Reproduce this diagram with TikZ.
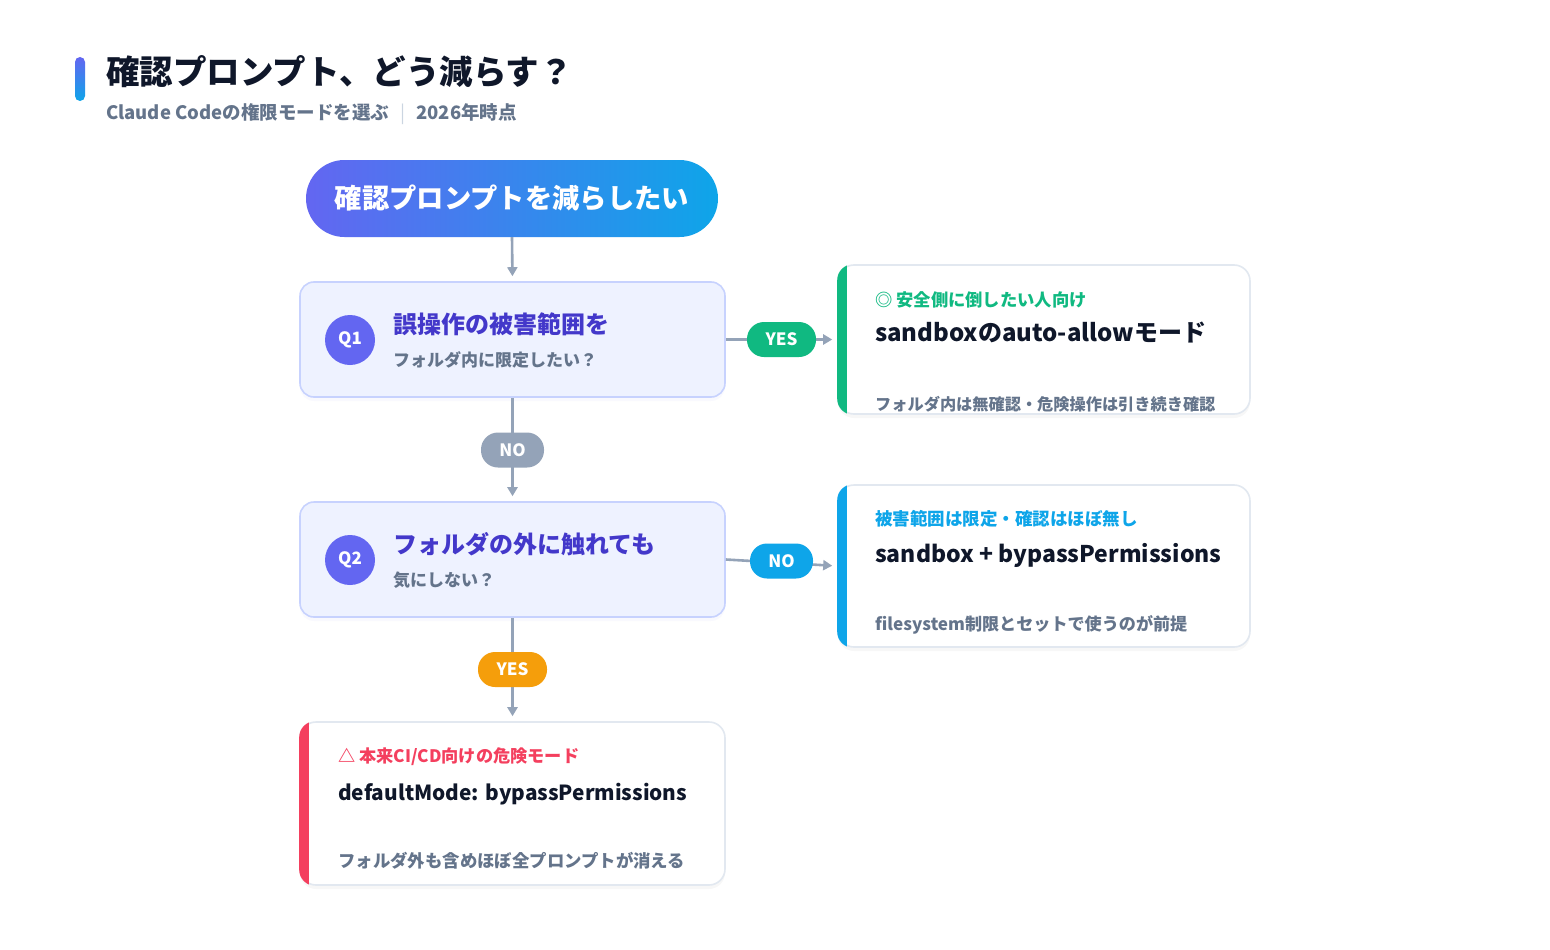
\documentclass[tikz,border=0pt]{standalone}
\usepackage{fontspec}
\setmainfont{Noto Sans CJK JP}
\usetikzlibrary{arrows.meta,shadows}
\definecolor{ink}{HTML}{0F172A}
\definecolor{muted}{HTML}{64748B}
\definecolor{sepc}{HTML}{CBD5E1}
\definecolor{indigoA}{HTML}{6366F1}
\definecolor{skyA}{HTML}{0EA5E9}
\definecolor{qtitle}{HTML}{4338CA}
\definecolor{qfill}{HTML}{EEF2FF}
\definecolor{qborder}{HTML}{C7D2FE}
\definecolor{cardborder}{HTML}{E2E8F0}
\definecolor{linec}{HTML}{94A3B8}
\definecolor{greenA}{HTML}{10B981}
\definecolor{redA}{HTML}{F43F5E}
\definecolor{orangeA}{HTML}{F59E0B}
\newcommand\fsz[1]{\fontsize{#1}{#1}\selectfont}
\pgfdeclarelayer{bg}
\pgfsetlayers{bg,main}
\begin{document}
\begin{tikzpicture}[x=1pt,y=-1pt,
  txt/.style={inner sep=0pt, anchor=base west, font=\bfseries},
  qbox/.style={draw=qborder, fill=qfill, line width=1.6pt, rounded corners=14pt,
    minimum width=425pt, minimum height=115pt, inner sep=0pt,
    drop shadow={shadow xshift=0pt, shadow yshift=-4pt, opacity=0.035, fill=indigoA}},
  card/.style={draw=cardborder, fill=white, line width=1.6pt, rounded corners=16pt,
    minimum width=412pt, inner sep=0pt,
    drop shadow={shadow xshift=0pt, shadow yshift=-4pt, opacity=0.03, fill=black}},
  pill/.style={rounded corners=17pt, minimum height=35pt, inner sep=0pt,
    text=white, font=\bfseries\fsz{17}},
  qcirc/.style={circle, fill=indigoA, minimum size=50pt, inner sep=0pt,
    text=white, font=\bfseries\fsz{17}},
  conn/.style={draw=linec, line width=2.6pt, -{Triangle[length=9pt,width=10pt]}, shorten >=5pt},
  glow/.style={fill=indigoA, opacity=0.03},
]
\useasboundingbox[fill=white] (0,0) rectangle (1550,950);

% header
\node[inner sep=0pt, minimum width=10pt, minimum height=44pt, rounded corners=5pt,
  top color=indigoA, bottom color=skyA] (bar) at (80,79) {};
\node[txt, text=ink, font=\bfseries\fsz{33.5}] (title) at (106,84.5) {確認プロンプト、どう減らす？};
\node[txt, text=muted, font=\bfseries\fsz{18.5}] (subtitle) at (106,119.5)
  {Claude Codeの権限モードを選ぶ\hspace{11pt}\textcolor{sepc}{\fontseries{m}\selectfont|}\hspace{11pt}2026年時点};

% start
\node[rounded corners=38.5pt, minimum width=412pt, minimum height=77pt, inner sep=0pt,
  left color=indigoA, right color=skyA, text=white, font=\bfseries\fsz{27.3}]
  (start) at (512,198.5) {確認プロンプトを減らしたい};
\begin{pgfonlayer}{bg}
  \foreach \d in {3,6,9,12}{
    \fill[glow, rounded corners=38.5pt+\d pt]
      ([xshift=-\d pt, yshift=\d pt-4pt]start.north west) rectangle
      ([xshift=\d pt, yshift=-\d pt-4pt]start.south east);
  }
\end{pgfonlayer}

% question boxes
\node[qbox] (q1) at (512.5,339.5) {};
\node[qbox] (q2) at (512.5,559.5) {};

% result cards
\node[card, minimum height=149pt] (r1) at (1044,339.5) {};
\node[card, minimum height=162pt] (r2) at (1044,566) {};
\node[card, minimum width=425pt, minimum height=163pt] (r3) at (512.5,803.5) {};

% accent strips
\begin{scope}
  \clip[rounded corners=16pt] (r1.north west) rectangle (r1.south east);
  \fill[greenA] (r1.north west) rectangle ([xshift=10pt]r1.south west);
\end{scope}
\begin{scope}
  \clip[rounded corners=16pt] (r2.north west) rectangle (r2.south east);
  \fill[skyA] (r2.north west) rectangle ([xshift=10pt]r2.south west);
\end{scope}
\begin{scope}
  \clip[rounded corners=16pt] (r3.north west) rectangle (r3.south east);
  \fill[redA] (r3.north west) rectangle ([xshift=10pt]r3.south west);
\end{scope}

% connectors
\draw[conn] (start.south) -- (q1.north);
\draw[conn] (q1.east) -- (r1.west);
\draw[conn] (q1.south) -- (q2.north);
\draw[conn] (q2.east) -- (r2.west);
\draw[conn] (q2.south) -- (r3.north);

% pills
\node[pill, fill=greenA, minimum width=69pt] (yes1) at (781.5,339.5) {YES};
\node[pill, fill=linec, minimum width=63pt] (no1) at (512.5,450) {NO};
\node[pill, fill=skyA, minimum width=63pt] (no2) at (781.5,561) {NO};
\node[pill, fill=orangeA, minimum width=69pt] (yes2) at (512.5,669.5) {YES};

% question contents
\node[qcirc] (c1) at (350,340) {Q1};
\node[txt, text=qtitle, font=\bfseries\fsz{24}] (q1t) at (393,333) {誤操作の被害範囲を};
\node[txt, text=muted, font=\bfseries\fsz{17}] (q1s) at (393,366) {フォルダ内に限定したい？};
\node[qcirc] (c2) at (350,560) {Q2};
\node[txt, text=qtitle, font=\bfseries\fsz{24}] (q2t) at (393,553) {フォルダの外に触れても};
\node[txt, text=muted, font=\bfseries\fsz{17}] (q2s) at (393,586) {気にしない？};

% card contents
\node[txt, text=greenA, font=\bfseries\fsz{17.3}] (r1l) at (875,306) {◎ 安全側に倒したい人向け};
\node[txt, text=ink, font=\bfseries\fsz{24}] (r1m) at (875,341) {sandboxのauto-allowモード};
\node[txt, text=muted, font=\bfseries\fsz{16.2}] (r1f) at (875,410) {フォルダ内は無確認・危険操作は引き続き確認};

\node[txt, text=skyA, font=\bfseries\fsz{17.5}] (r2l) at (875,525) {被害範囲は限定・確認はほぼ無し};
\node[txt, text=ink, font=\bfseries\fsz{23}] (r2m) at (875,562) {sandbox + bypassPermissions};
\node[txt, text=muted, font=\bfseries\fsz{17.1}] (r2f) at (875,630) {filesystem制限とセットで使うのが前提};

\node[txt, text=redA, font=\bfseries\fsz{17.2}] (r3l) at (338,762) {△ 本来CI/CD向けの危険モード};
\node[txt, text=ink, font=\bfseries\fsz{20.8}] (r3m) at (338,800) {defaultMode: bypassPermissions};
\node[txt, text=muted, font=\bfseries\fsz{17.4}] (r3f) at (338,867) {フォルダ外も含めほぼ全プロンプトが消える};
\end{tikzpicture}
\end{document}
